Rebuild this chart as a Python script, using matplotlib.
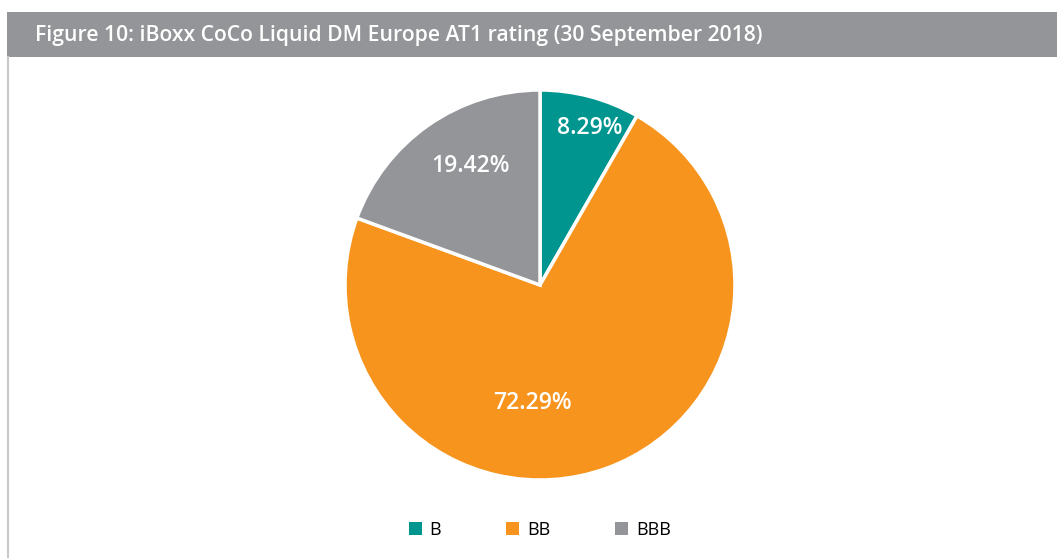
import matplotlib.pyplot as plt
from matplotlib.patches import Rectangle
from matplotlib.lines import Line2D

# data
ratings = ['B', 'BB', 'BBB']
shares = [8.29, 72.29, 19.42]
colors = ['#00968F', '#F7941E', '#939598']
# label spots in pie units (placed by hand in the original)
label_pos = [(0.256, 0.805), (-0.041, -0.605), (-0.359, 0.61)]

fig = plt.figure(figsize=(10.57, 5.58), dpi=100, facecolor='white')

# title bar + left frame line
fig.patches.append(Rectangle((7 / 1057, 1 - 57 / 558), 1, 45 / 558, transform=fig.transFigure,
                             facecolor='#939598', edgecolor='none', zorder=0))
fig.lines.append(Line2D([7.5 / 1057, 7.5 / 1057], [0, 1 - 57 / 558], transform=fig.transFigure,
                        color='#C8C8C8', lw=1.5))
fig.text(35 / 1057, 1 - 35 / 558, 'Figure 10: iBoxx CoCo Liquid DM Europe AT1 rating (30 September 2018)',
         color='white', fontsize=15.2, fontweight='semibold', family='Open Sans', va='center', ha='left')

ax = fig.add_axes([345 / 1057, 78 / 558, 390 / 1057, 390 / 558])
wedges, texts, autotexts = ax.pie(shares, colors=colors, startangle=90, counterclock=False,
                                  autopct='%.2f%%', radius=1,
                                  wedgeprops=dict(edgecolor='white', linewidth=2.5),
                                  textprops=dict(color='white', fontsize=16.5, fontweight='semibold',
                                                 family='Open Sans'))
for t, p in zip(autotexts, label_pos):
    t.set_position(p)
    t.set_ha('center')
    t.set_va('center')
ax.set_xlim(-1.0, 1.0)
ax.set_ylim(-1.0, 1.0)

leg = fig.legend(wedges, ratings, loc='center', bbox_to_anchor=(540 / 1057, 1 - 530 / 558), ncol=3,
                 frameon=False, handlelength=0.7, handleheight=0.7, handletextpad=0.45,
                 columnspacing=3.6, prop=dict(family='Open Sans', size=13))
for h in leg.legend_handles:
    h.set_edgecolor('none')

fig.savefig('out.png', dpi=100, facecolor='white')
